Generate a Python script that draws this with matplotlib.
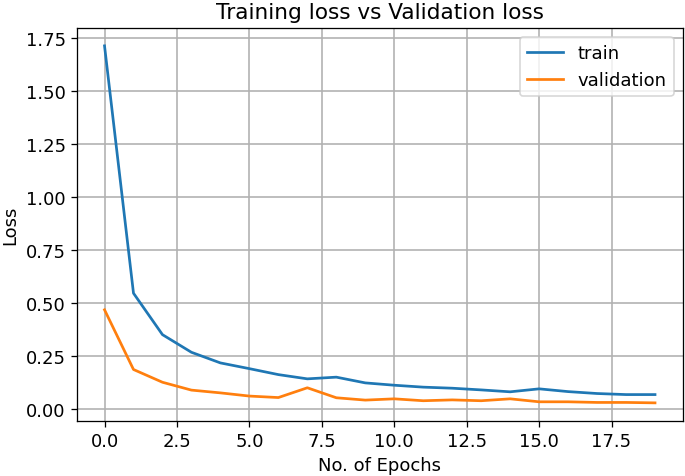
import matplotlib
matplotlib.use("Agg")
import matplotlib.pyplot as plt

# loss values per epoch
epochs = list(range(20))
train_loss = [1.711, 0.547, 0.352, 0.269, 0.219, 0.192, 0.164, 0.144, 0.152, 0.125,
              0.114, 0.105, 0.100, 0.092, 0.083, 0.097, 0.084, 0.075, 0.070, 0.070]
val_loss = [0.469, 0.188, 0.128, 0.091, 0.078, 0.063, 0.056, 0.102, 0.055, 0.044,
            0.050, 0.041, 0.045, 0.041, 0.050, 0.036, 0.036, 0.033, 0.033, 0.031]

plt.rcParams['font.size'] = 11.3

fig = plt.figure(figsize=(685 / 115, 477 / 115), dpi=115)
ax = fig.add_axes([0.1124, 0.1159, 0.884, 0.8233])

ax.plot(epochs, train_loss, label='train', linewidth=1.7)
ax.plot(epochs, val_loss, label='validation', linewidth=1.7)
ax.set_title('Training loss vs Validation loss')
ax.set_xlabel('No. of Epochs')
ax.set_ylabel('Loss')
ax.grid(True, color='#b0b0b0', linewidth=1.0)
ax.legend(loc='upper right')

fig.savefig("out.png", dpi=115)
